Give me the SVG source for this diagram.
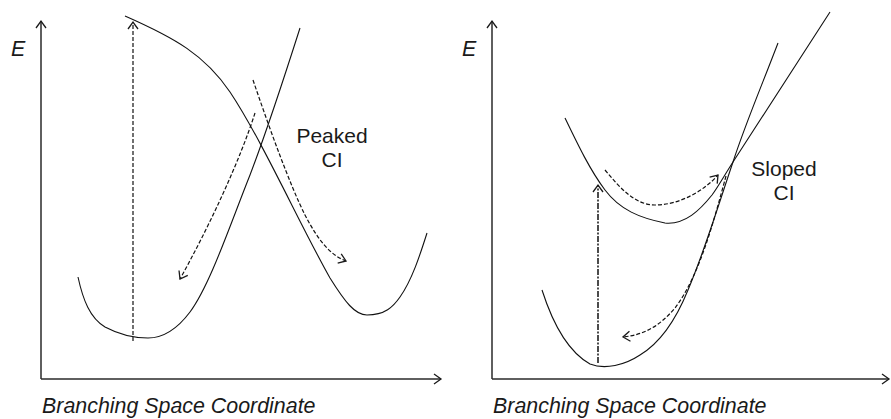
<svg xmlns="http://www.w3.org/2000/svg" width="891" height="419" viewBox="0 0 891 419">
  <style>
    .axis { fill: none; stroke: #2a2a2a; stroke-width: 1.5; }
    .curve { fill: none; stroke: #111; stroke-width: 1.1; }
    .dash { fill: none; stroke: #111; stroke-width: 1.2; stroke-dasharray: 4 2; }
    .dashdot { fill: none; stroke: #111; stroke-width: 1.5; stroke-dasharray: 6 1.5 2 1.5; }
    .lbl { font-family: "Liberation Sans", Arial, sans-serif; font-size: 21px; fill: #1a1a1a; }
    .it { font-style: italic; font-size: 21.4px; }
  </style>
  <defs>
    <marker id="ah" markerUnits="userSpaceOnUse" markerWidth="12" markerHeight="14" refX="8" refY="6" orient="auto" viewBox="0 0 12 12">
      <path d="M1,1 L8,6 L1,11" fill="none" stroke="#1a1a1a" stroke-width="1.3" stroke-dasharray="none"/>
    </marker>
  </defs>

  <g id="left-panel">
    <g id="left-axes">
      <path class="axis" d="M41,379 L41,21" marker-end="url(#ah)"/>
      <path class="axis" d="M41,379 L441,379" marker-end="url(#ah)"/>
      <text class="lbl it" x="11" y="56">E</text>
      <text class="lbl it" x="42" y="413">Branching Space Coordinate</text>
    </g>
    <g id="left-upper-surface">
      <path class="curve" d="M125,16 C175,38 205,55 230,92 C262,140 300,225 330,278 C345,302 355,315 367,315 C385,315 393,307 400,297 C412,280 420,255 427,233"/>
    </g>
    <g id="left-lower-surface">
      <path class="curve" d="M78,277 C83,300 90,318 105,327 C120,335 135,338 148,338 C165,338 178,328 190,312 C210,285 230,225 250,175 C268,128 285,75 300,28"/>
    </g>
    <g id="label-peaked">
      <text class="lbl" x="332" y="143" text-anchor="middle">Peaked</text>
      <text class="lbl" x="332" y="167" text-anchor="middle">CI</text>
    </g>
  </g>

  <g id="right-panel">
    <g id="right-axes">
      <path class="axis" d="M492,379 L492,21" marker-end="url(#ah)"/>
      <path class="axis" d="M492,379 L889,379" marker-end="url(#ah)"/>
      <text class="lbl it" x="462" y="56">E</text>
      <text class="lbl it" x="493" y="413">Branching Space Coordinate</text>
    </g>
    <g id="right-upper-surface">
      <path class="curve" d="M565,118 C578,145 590,170 605,190 C620,210 640,218 665,223 C685,225 700,210 712,195 C718,187 724,176 733,162 L830,12"/>
    </g>
    <g id="right-lower-surface">
      <path class="curve" d="M542,290 C550,315 565,350 590,364 C605,370 625,365 640,355 C660,343 675,322 688,290 C705,250 720,200 733,162 C745,125 760,90 778,43"/>
    </g>
    <g id="label-sloped">
      <text class="lbl" x="784" y="176" text-anchor="middle">Sloped</text>
      <text class="lbl" x="784" y="200" text-anchor="middle">CI</text>
    </g>
  </g>

  <g id="connectors">
    <path class="dash" d="M133,341 L133,22" marker-end="url(#ah)"/>
    <path class="dash" d="M255,113 C240,160 210,225 180,279" marker-end="url(#ah)"/>
    <path class="dash" d="M253,80 C270,130 290,185 305,215 C318,240 330,255 346,261" marker-end="url(#ah)"/>
    <path class="dashdot" d="M598,363 L598,185" marker-end="url(#ah)"/>
    <path class="dash" d="M605,170 C620,188 635,205 655,205 C680,205 705,190 718,175" marker-end="url(#ah)"/>
    <path class="dash" d="M726,176 C714,220 700,275 675,308 C658,328 642,335 623,337" marker-end="url(#ah)"/>
  </g>
</svg>
